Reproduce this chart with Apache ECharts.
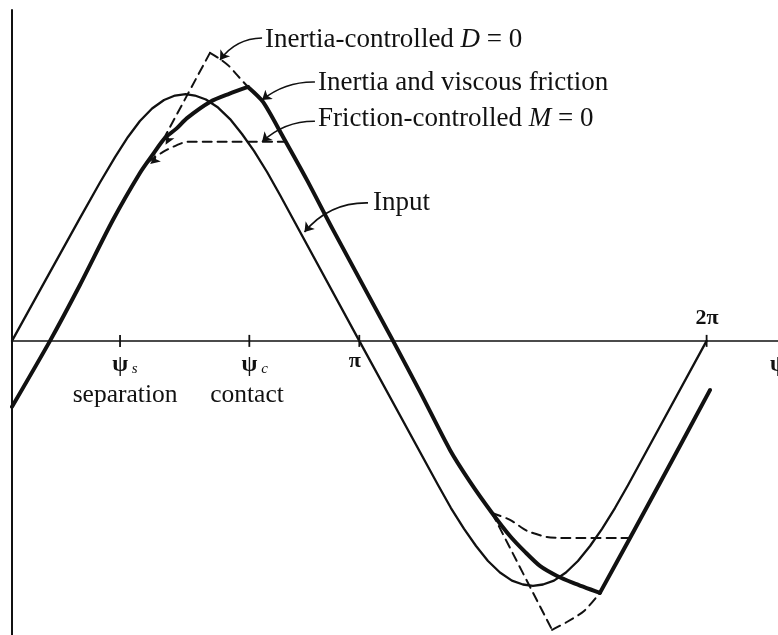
<!DOCTYPE html>
<html>
<head>
<meta charset="utf-8">
<script src="https://cdn.jsdelivr.net/npm/echarts/dist/echarts.min.js"></script>
<style>
  html, body { margin: 0; padding: 0; background: #fff; }
  #chart { width: 778px; height: 635px; }
</style>
</head>
<body>
<div id="chart"></div>
<script>
// Phase angle in degrees (0..360 = one cycle), displacement normalised to the input amplitude.

// Input motion
const inputCurve = [
  [0, 0], [17.1, 0.244], [35.2, 0.501], [45.6, 0.646], [53.4, 0.750], [60.1, 0.832],
  [66.3, 0.897], [72.6, 0.948], [78.8, 0.983], [84.5, 1.001], [90, 1.007], [94.8, 1.001],
  [100.5, 0.985], [106.8, 0.952], [113.0, 0.905], [119.2, 0.844], [125.4, 0.775],
  [132.2, 0.689], [138.9, 0.595], [180, 0], [220.8, -0.588], [227.5, -0.682],
  [234.3, -0.767], [240.5, -0.837], [246.7, -0.898], [252.9, -0.945], [259.1, -0.978],
  [264.8, -0.994], [270, -1.0], [275.2, -0.994], [280.9, -0.978], [287.1, -0.945],
  [293.3, -0.898], [299.6, -0.837], [305.8, -0.767], [312.5, -0.682], [319.3, -0.588],
  [360, 0]
];

// Response with inertia and viscous friction
const viscousCurve = [
  [0, -0.269], [19.7, 0], [35.2, 0.228], [52.3, 0.493], [66.3, 0.685], [73.1, 0.762],
  [79.3, 0.828], [85.5, 0.868], [90.7, 0.909], [102.6, 0.975], [112.5, 1.008], [122.3, 1.036],
  [130.1, 0.975], [140.5, 0.832], [152.9, 0.656], [166.4, 0.453], [197.5, 0], [211.5, -0.208],
  [227, -0.445], [237.4, -0.575], [248.8, -0.702], [258.1, -0.796], [265.9, -0.861],
  [273.6, -0.918], [282.5, -0.959], [290.8, -0.987], [304.7, -1.028], [320.3, -0.804],
  [335.8, -0.580], [361.8, -0.200]
];
// separation/contact corners of the response (indices into viscousCurve)
const viscousCorners = [11, 26];

// Inertia-controlled (D = 0) branches; the second point is the sharp apex
const inertiaUpper = [
  [78.3, 0.820], [102.6, 1.175], [107.8, 1.150], [112.5, 1.121], [116.6, 1.085], [122.3, 1.036]
];
const inertiaLower = [
  [248.8, -0.702], [279.9, -1.179], [287.6, -1.147], [296.5, -1.102], [304.7, -1.028]
];

// Friction-controlled (M = 0) branches
const frictionUpper = [
  [70.5, 0.729], [78.3, 0.771], [85.5, 0.799], [90.7, 0.812], [101.1, 0.812], [142, 0.812]
];
const frictionLower = [
  [248.8, -0.702], [258.1, -0.730], [266.9, -0.775], [277.2, -0.800], [284, -0.804], [320.3, -0.804]
];

// Axis ticks on the phase axis
const tickValues = [56, 123, 180, 360];
const tickLabels = ['{g|ψ}{s| s}', '{g|ψ}{s| c}', '{p|π}', '{p|2π}'];
const eventLabels = ['separation', 'contact'];

// Curve annotations
const annotationTexts = [
  '{t|Inertia-controlled }{i|D}{t| = 0}',
  '{t|Inertia and viscous friction}',
  '{t|Friction-controlled }{i|M}{t| = 0}',
  '{t|Input}'
];

// ---- layout (data coordinates of text anchors and leader lines) ----
const tickLabelAnchors = [[58.5, -0.100], [125.8, -0.098], [177.6, -0.082], [360.2, 0.093]];
const eventLabelAnchors = [[58.6, -0.221], [121.8, -0.221]];
const annotationAnchors = [[131.1, 1.228], [158.6, 1.052], [158.6, 0.905], [187.1, 0.563]];
const leaderLines = [
  { from: [129.6, 1.236], to: [107.8, 1.146], bend: -0.25 },
  { from: [157.0, 1.056], to: [129.6, 0.983], bend: -0.18 },
  { from: [157.0, 0.896], to: [129.6, 0.812], bend: -0.2 },
  { from: [184.5, 0.563], to: [151.6, 0.444], bend: -0.24 }
];
const branchArrows = [
  { at: [79.6, 0.80], rotate: 152 },
  { at: [71.6, 0.722], rotate: 128 }
];
const axisNameAnchor = [392.8, -0.098];

const INK = '#111111';
const SERIF = 'Liberation Serif';

const richText = {
  t: { fontFamily: SERIF, fontSize: 27, color: INK },
  i: { fontFamily: SERIF, fontSize: 27, color: INK, fontStyle: 'italic' },
  g: { fontFamily: SERIF, fontSize: 23, color: INK, fontWeight: 'bold' },
  s: { fontFamily: SERIF, fontSize: 15, color: INK, fontStyle: 'italic', padding: [8, 0, 0, 0] },
  p: { fontFamily: SERIF, fontSize: 22, color: INK, fontWeight: 'bold' },
  e: { fontFamily: SERIF, fontSize: 25.5, color: INK }
};

function lineSeries(data, width, dashed, smooth) {
  return {
    type: 'line',
    data: data,
    showSymbol: false,
    symbol: 'none',
    smooth: smooth || false,
    silent: true,
    lineStyle: { color: INK, width: width, type: dashed ? [9, 6] : 'solid', cap: 'round', join: 'round' },
    z: 3
  };
}

// split a curve at its corner indices so each smooth piece keeps sharp joints
function pieces(data, corners) {
  const out = [];
  let start = 0;
  corners.concat([data.length - 1]).forEach(c => {
    out.push(data.slice(start, c + 1));
    start = c;
  });
  return out;
}

function textSeries(points, texts, align) {
  return {
    type: 'scatter',
    symbolSize: 0,
    silent: true,
    itemStyle: { opacity: 1 },
    data: points.map((p, i) => ({ value: p, label: { formatter: texts[i] } })),
    label: {
      show: true,
      position: 'inside',
      align: align,
      verticalAlign: 'middle',
      rich: richText,
      color: INK
    },
    z: 5
  };
}

const curveSeries = [lineSeries(inputCurve, 2.3, false, false)]
  .concat(pieces(viscousCurve, viscousCorners).map(p => lineSeries(p, 4, false, 0.25)))
  .concat(pieces(inertiaUpper, [1]).map(p => lineSeries(p, 2, true, 0.25)))
  .concat(pieces(inertiaLower, [1]).map(p => lineSeries(p, 2, true, 0.25)))
  .concat([lineSeries(frictionUpper, 2, true, 0.25), lineSeries(frictionLower, 2, true, 0.25)]);

const chart = echarts.init(document.getElementById('chart'), null, { renderer: 'canvas' });

chart.setOption({
  animation: false,
  backgroundColor: '#ffffff',
  grid: { left: 12, right: 0, top: 10, bottom: 0, containLabel: false },
  xAxis: {
    type: 'value',
    min: 0,
    max: 397,
    axisLine: { show: true, onZero: true, lineStyle: { color: INK, width: 1.6 } },
    axisTick: { show: false },
    axisLabel: { show: false },
    splitLine: { show: false }
  },
  yAxis: {
    type: 'value',
    min: -1.2,
    max: 1.35,
    axisLine: { show: true, onZero: true, lineStyle: { color: INK, width: 2 } },
    axisTick: { show: false },
    axisLabel: { show: false },
    splitLine: { show: false }
  },
  series: curveSeries.concat([
    {
      // tick marks crossing the phase axis
      type: 'scatter',
      silent: true,
      symbol: 'rect',
      symbolSize: [1.8, 12],
      itemStyle: { color: INK, opacity: 1 },
      data: tickValues.map(v => [v, 0]),
      z: 4
    },
    {
      // small arrowheads where the limiting curves leave the response
      type: 'scatter',
      silent: true,
      symbol: 'arrow',
      symbolSize: [7, 10],
      itemStyle: { color: INK, opacity: 1 },
      data: branchArrows.map(a => ({ value: a.at, symbolRotate: a.rotate })),
      z: 4
    },
    {
      // leader lines from the annotations to their curves
      type: 'lines',
      coordinateSystem: 'cartesian2d',
      silent: true,
      symbol: ['none', 'arrow'],
      symbolSize: 9,
      lineStyle: { color: INK, width: 1.6, opacity: 1 },
      data: leaderLines.map(l => ({ coords: [l.from, l.to], lineStyle: { curveness: l.bend } })),
      z: 4
    },
    textSeries(tickLabelAnchors, tickLabels, 'center'),
    textSeries(eventLabelAnchors, eventLabels.map(t => '{e|' + t + '}'), 'center'),
    textSeries(annotationAnchors, annotationTexts, 'left'),
    textSeries([axisNameAnchor], ['{g|ψ}'], 'left')
  ])
});
</script>
</body>
</html>
